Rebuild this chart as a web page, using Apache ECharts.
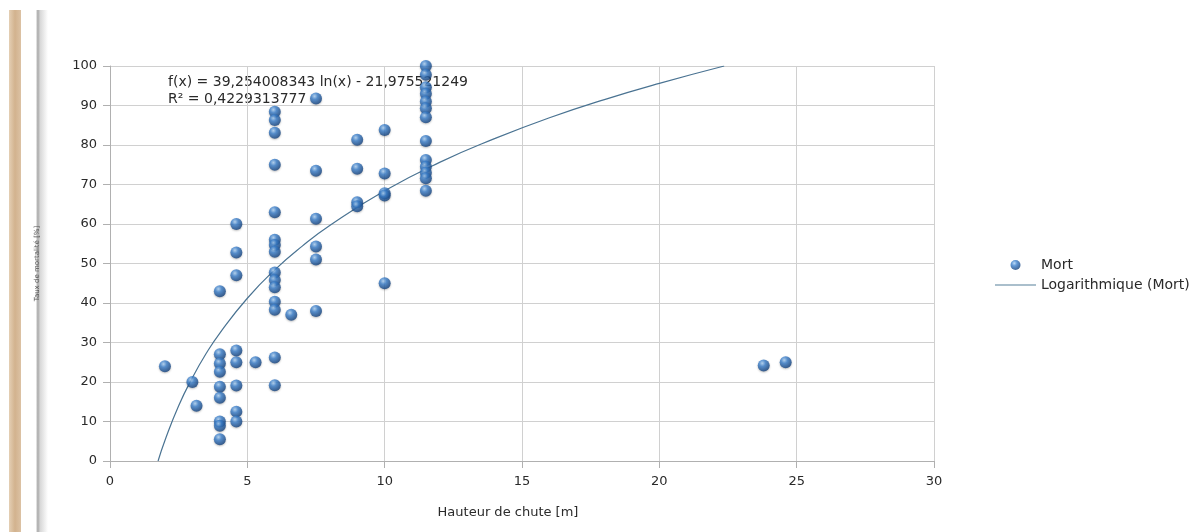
<!DOCTYPE html>
<html>
<head>
<meta charset="utf-8">
<script src="https://cdn.jsdelivr.net/npm/echarts@6/dist/echarts.min.js"></script>
<style>
  html, body { margin: 0; padding: 0; background: #fff; }
  #main { width: 1195px; height: 532px; }
</style>
</head>
<body>
<div id="main"></div>
<script>
// points
var hauteur = [2.0, 3.0, 3.15,
    4.0, 4.0, 4.0, 4.0, 4.0, 4.0, 4.0, 4.0, 4.0,
    4.6, 4.6, 4.6, 4.6, 4.6, 4.6, 4.6, 4.6,
    5.3,
    6.0, 6.0, 6.0, 6.0, 6.0, 6.0, 6.0, 6.0, 6.0, 6.0, 6.0, 6.0, 6.0, 6.0, 6.0,
    6.6,
    7.5, 7.5, 7.5, 7.5, 7.5, 7.5,
    9.0, 9.0, 9.0, 9.0,
    10.0, 10.0, 10.0, 10.0, 10.0,
    11.5, 11.5, 11.5, 11.5, 11.5, 11.5, 11.5, 11.5, 11.5, 11.5, 11.5, 11.5, 11.5,
    23.8, 24.6];
var mort = [24, 20, 14,
    43, 27, 24.7, 22.6, 18.8, 16, 10, 8.9, 5.5,
    60, 52.8, 47, 28, 25, 19.1, 12.5, 10,
    25,
    88.4, 86.3, 83.1, 75, 63, 56, 54.7, 53, 47.7, 45.8, 44, 40.3, 38.3, 26.2, 19.2,
    37,
    91.8, 73.5, 61.3, 54.3, 51, 38,
    81.3, 74, 65.5, 64.5,
    83.8, 72.8, 67.8, 67.2, 45,
    100, 97.8, 94.6, 93, 91, 89.3, 87, 81, 76.2, 74.5, 73, 71.6, 68.4,
    24.2, 25];

// trend curve
var trendX = [1.75, 2, 2.5, 3, 3.5, 4, 5, 6, 7, 8, 10, 12, 14, 16, 18, 20, 22.36];
var trendY = [0, 5.2, 14, 21.1, 27.2, 32.4, 41.2, 48.4, 54.4, 59.6, 68.4, 75.6, 81.6, 86.9, 91.5, 95.6, 100];

var xTicks = [0, 30, 5];
var yTicks = [0, 100, 10];

var pts = hauteur.map(function (h, i) { return [h, mort[i]]; });
var trend = trendX.map(function (x, i) { return [x, trendY[i]]; });

var myChart = echarts.init(document.getElementById('main'));

var font = 'DejaVu Sans, Verdana, sans-serif';

var ball = {
    type: 'radial', x: 0.38, y: 0.32, r: 0.7,
    colorStops: [
        { offset: 0, color: '#aed3f6' },
        { offset: 0.38, color: '#3a7fcc' },
        { offset: 1, color: '#123f7a' }
    ]
};

var option = {
    backgroundColor: '#fff',
    animation: false,
    textStyle: { fontFamily: font },
    grid: { left: 110, top: 66, width: 824, height: 395 },
    legend: {
        orient: 'vertical',
        left: 995,
        top: 258,
        padding: 0,
        itemWidth: 41,
        itemHeight: 10,
        itemGap: 6,
        textStyle: { fontSize: 14, color: '#2a2a2a', fontFamily: font },
        data: [
            { name: 'Mort', icon: 'circle' },
            { name: 'Logarithmique (Mort)', icon: 'path://M0,0 L41,0 L41,1 L0,1 Z' }
        ]
    },
    xAxis: {
        type: 'value',
        min: xTicks[0], max: xTicks[1], interval: xTicks[2],
        name: 'Hauteur de chute [m]',
        nameLocation: 'middle',
        nameGap: 45,
        nameTextStyle: { fontSize: 13, color: '#2a2a2a', padding: [0, 28, 0, 0] },
        axisLine: { lineStyle: { color: '#b0b0b0' } },
        axisTick: { show: true, length: 7, lineStyle: { color: '#b0b0b0' } },
        axisLabel: { fontSize: 13, color: '#2a2a2a', margin: 14 },
        splitLine: { lineStyle: { color: '#d0d0d0' } }
    },
    yAxis: {
        type: 'value',
        min: yTicks[0], max: yTicks[1], interval: yTicks[2],
        name: 'Taux de mortalité [%]',
        nameLocation: 'middle',
        nameRotate: 90,
        nameGap: 69,
        nameTextStyle: { fontSize: 7, color: '#555' },
        axisLine: { show: true, lineStyle: { color: '#b0b0b0' } },
        axisTick: { show: true, length: 7, lineStyle: { color: '#b0b0b0' } },
        axisLabel: { fontSize: 13, color: '#2a2a2a', margin: 13 },
        splitLine: { lineStyle: { color: '#d0d0d0' } }
    },
    graphic: [
        { type: 'rect', left: 9, top: 10, shape: { width: 12, height: 522 },
          style: { fill: { type: 'linear', x: 0, y: 0, x2: 1, y2: 0,
              colorStops: [{ offset: 0, color: '#e4cfb4' }, { offset: 0.5, color: '#d2b28e' }, { offset: 1, color: '#dcc2a4' }] } } },
        { type: 'rect', left: 36, top: 10, shape: { width: 12, height: 522 },
          style: { fill: { type: 'linear', x: 0, y: 0, x2: 1, y2: 0,
              colorStops: [{ offset: 0, color: '#f4f4f4' }, { offset: 0.15, color: '#a8a8a8' }, { offset: 0.35, color: '#d8d8d8' }, { offset: 1, color: '#ffffff' }] } } },
        { type: 'text', left: 168, top: 74,
          style: { text: 'f(x) = 39,254008343 ln(x) - 21,975521249\nR² = 0,4229313777',
                   fontSize: 14, lineHeight: 17, fill: '#2a2a2a', fontFamily: font } }
    ],
    series: [
        {
            name: 'Mort',
            type: 'scatter',
            data: pts,
            symbolSize: 12,
            itemStyle: {
                color: ball,
                shadowBlur: 2,
                shadowColor: 'rgba(0,0,0,0.3)',
                shadowOffsetY: 1
            },
            z: 3
        },
        {
            name: 'Logarithmique (Mort)',
            type: 'line',
            data: trend,
            smooth: true,
            symbol: 'none',
            lineStyle: { color: '#4a7392', width: 1.2 },
            itemStyle: { color: '#56809a' },
            z: 2
        }
    ]
};

myChart.setOption(option);
</script>
</body>
</html>
